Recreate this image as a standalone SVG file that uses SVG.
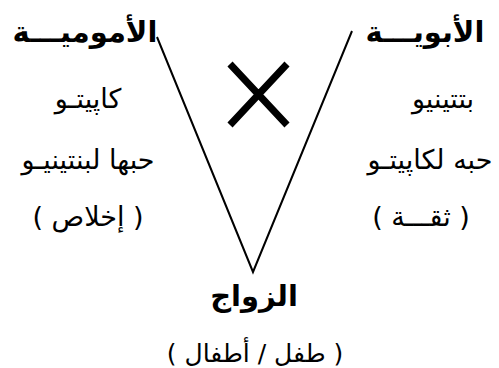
<svg xmlns="http://www.w3.org/2000/svg" width="499" height="368" viewBox="0 0 499 368">
<style>
text{font-family:"DejaVu Sans","Noto Sans",sans-serif;fill:#000;text-anchor:middle;direction:rtl}
.h{font-weight:bold;font-size:29px}
.b{font-size:27px}
.s{font-size:25px}
.ln{stroke:#000;fill:none;stroke-width:2}
</style>
<rect width="499" height="368" fill="#fff"/>
<g id="connectors">
<path class="ln" d="M157,37 L253,272 L352,31"/>
<path d="M230,64 L287,125 M287,64 L230,125" stroke="#000" stroke-width="7" fill="none"/>
</g>
<g id="mother"><text class="h" x="85" y="42">الأموميـــة</text>
<text class="b" x="88" y="108">كاپيتـو</text>
<text class="b" x="88" y="169">حبها لبنتينيـو</text>
<text class="b" x="88" y="226">( إخلاص )</text></g>
<g id="father"><text class="h" x="425" y="42">الأبويـــة</text>
<text class="b" x="443" y="108">بتتينيو</text>
<text class="b" x="430" y="169">حبه لكاپيتـو</text>
<text class="b" x="421" y="226">( ثقـــة )</text></g>
<g id="marriage"><text class="h" x="254" y="306">الزواج</text>
<text class="s" x="255" y="362">( طفل / أطفال )</text></g>
</svg>
